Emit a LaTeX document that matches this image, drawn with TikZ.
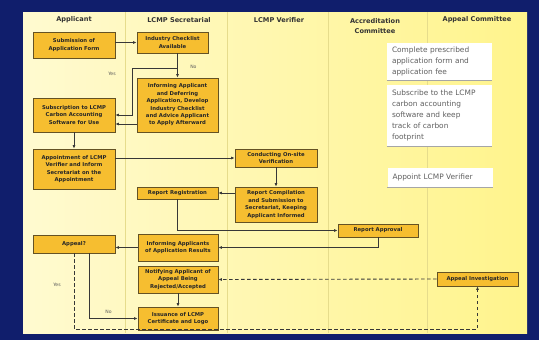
\documentclass[tikz,border=0pt]{standalone}
\usepackage{fontspec}
\newfontfamily\dejavu{DejaVu Sans}
\usetikzlibrary{arrows.meta}
\definecolor{navy}{RGB}{16,30,108}
\definecolor{paleleft}{RGB}{255,250,208}
\definecolor{paleright}{RGB}{255,244,140}
\definecolor{colline}{RGB}{230,220,140}
\definecolor{boxfill}{RGB}{246,190,48}
\definecolor{boxedge}{RGB}{100,82,36}
\definecolor{linegray}{RGB}{55,55,55}
\definecolor{notegray}{RGB}{95,95,95}

\begin{document}
\begin{tikzpicture}[x=1pt,y=-1pt,
  stepbox/.style={draw=boxedge,fill=boxfill,line width=0.8pt,align=center,inner sep=0pt,
    font=\dejavu\bfseries\fontsize{5.3}{7.4}\selectfont,text=black!85},
  note/.style={fill=white,align=left,inner xsep=5pt,inner ysep=0pt,text width=95pt,
    text=notegray,font=\dejavu\fontsize{7.4}{10.8}\selectfont},
  head/.style={align=center,font=\dejavu\bfseries\fontsize{6.6}{10.5}\selectfont,text=black!80},
  tag/.style={font=\dejavu\fontsize{4.6}{5}\selectfont,text=black!65},
  flow/.style={draw=linegray,line width=0.9pt,-{Latex[length=3.5pt,width=3pt]}},
  dashflow/.style={flow,dash pattern=on 3.5pt off 2.5pt}]

\useasboundingbox (0,0) rectangle (539,340);

%background and lanes
\fill [navy] (0,0) rectangle (539,340);
\shade [left color=paleleft,right color=paleright] (23,12) rectangle (527,333);
\foreach \x in {125,227,328,427}
  \draw [colline,line width=1pt] (\x,12) -- (\x,333);

%lane titles
\node [head] (happ) at (74,20) {Applicant};
\node [head] (hsec) at (179,20) {LCMP Secretarial};
\node [head] (hver) at (279,20) {LCMP Verifier};
\node [head] (hacc) at (375,26) {Accreditation\\Committee};
\node [head] (happeal) at (477,20) {Appeal Committee};

%steps
\node [stepbox,minimum width=82pt,minimum height=26pt] (sub) at (74,45) {Submission of\\Application Form};
\node [stepbox,minimum width=71pt,minimum height=21pt] (chk) at (172.5,42.5) {Industry Checklist\\Available};
\node [stepbox,minimum width=81pt,minimum height=54pt] (inf) at (177.5,105) {Informing Applicant\\and Deferring\\Application, Develop\\Industry Checklist\\and Advice Applicant\\to Apply Afterward};
\node [stepbox,minimum width=82pt,minimum height=34pt] (subs) at (74,115) {Subscription to LCMP\\Carbon Accounting\\Software for Use};
\node [stepbox,minimum width=82pt,minimum height=40pt] (app) at (74,169) {Appointment of LCMP\\Verifier and Inform\\Secretariat on the\\Appointment};
\node [stepbox,minimum width=82pt,minimum height=18pt] (con) at (276,158) {Conducting On-site\\Verification};
\node [stepbox,minimum width=82pt,minimum height=35pt] (rep) at (276,204.5) {Report Compilation\\and Submission to\\Secretariat, Keeping\\Applicant Informed};
\node [stepbox,minimum width=81pt,minimum height=12pt] (reg) at (177.5,193) {Report Registration};
\node [stepbox,minimum width=80pt,minimum height=13pt] (apr) at (378,230.5) {Report Approval};
\node [stepbox,minimum width=82pt,minimum height=18pt] (apl) at (74,244) {Appeal?};
\node [stepbox,minimum width=80pt,minimum height=27pt] (res) at (178,247.5) {Informing Applicants\\of Application Results};
\node [stepbox,minimum width=80pt,minimum height=27pt] (ntf) at (178,279.5) {Notifying Applicant of\\Appeal Being\\Rejected/Accepted};
\node [stepbox,minimum width=80pt,minimum height=23pt] (iss) at (178,318.5) {Issuance of LCMP\\Certificate and Logo};
\node [stepbox,minimum width=81pt,minimum height=14pt] (inv) at (477.5,279) {Appeal Investigation};

%notes
\node [note,minimum height=37pt] (n1) at (439.5,61.5) {Complete prescribed\\application form and\\application fee};
\node [note,minimum height=61pt] (n2) at (439.5,115.5) {Subscribe to the LCMP\\carbon accounting\\software and keep\\track of carbon\\footprint};
\node [note,minimum height=19pt] (n3) at (440,177.5) {Appoint LCMP Verifier};
\foreach \n in {n1,n2,n3}
  \draw [black!35,line width=0.8pt] (\n.south west) -- (\n.south east);

%connectors
\coordinate (yesturn) at (132,68);
\coordinate (dashbot) at (75,329);
\draw [flow] (sub.east |- chk.west) -- (chk.west);
\draw [flow] (inf.north |- chk.south) -- (inf.north) node [tag,pos=0.55,right=9pt] (lno) {No};
\draw [flow] (inf.north |- yesturn) -- (yesturn) |- (subs.east);
\node [tag] (lyes) at (112,74) {Yes};
\draw [flow] (inf.west |- 0,124) -- (subs.east |- 0,124);
\draw [flow] (subs.south) -- (app.north);
\draw [flow] (app.east |- con.west) -- (con.west);
\draw [flow] (con.south) -- (rep.north);
\draw [flow] (rep.west |- reg.east) -- (reg.east);
\draw [flow] (reg.south) |- (apr.west);
\draw [flow] (apr.south) |- (res.east);
\draw [flow] (res.west) -- (apl.east |- res.west);
\draw [flow] ([xshift=15pt]apl.south) |- (iss.west) node [tag,pos=0.7,above=1pt] (lno2) {No};
\draw [dashflow] (apl.south) -- (apl.south |- dashbot) -| (inv.south);
\node [tag] (lyes2) at (57,285) {Yes};
\draw [dashflow] (inv.west) -- (ntf.east);
\draw [flow] (ntf.south) -- (iss.north);

\end{tikzpicture}
\end{document}
